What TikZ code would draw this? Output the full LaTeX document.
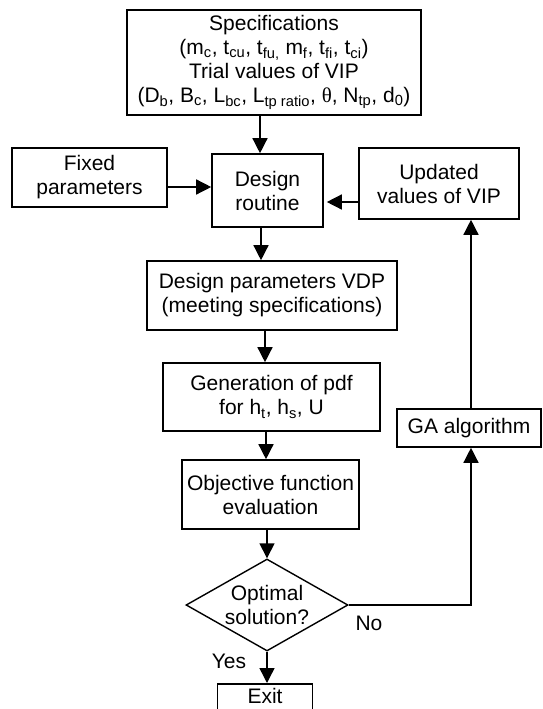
\documentclass[tikz,border=0pt]{standalone}
\usepackage{fontspec}
\setmainfont{Liberation Sans}
\newfontfamily\symserif{Liberation Serif}
\usetikzlibrary{arrows.meta,shapes.geometric}
\begin{document}
\begin{tikzpicture}[x=1pt,y=-1pt,
  txt/.style={font=\fontsize{21}{24}\selectfont},
  box/.style={txt, draw, line width=1.6pt, align=center, inner sep=2pt},
  conn/.style={line width=1.4pt, -{Triangle[length=15pt,width=15pt]}}]
\useasboundingbox (0,0) rectangle (542,709);
% boxes
\node[box, minimum width=294pt, minimum height=105pt] (spec) at (274,62.5)
  {Specifications\\(m\textsubscript{c}, t\textsubscript{cu}, t\textsubscript{fu,} m\textsubscript{f}, t\textsubscript{fi}, t\textsubscript{ci})\\Trial values of VIP\\(D\textsubscript{b}, B\textsubscript{c}, L\textsubscript{bc}, L\textsubscript{tp ratio}, {\symserif θ}, N\textsubscript{tp}, d\textsubscript{0})};
\node[box, minimum width=155pt, minimum height=59pt] (fix) at (89.5,177.5) {Fixed\\parameters};
\node[box, minimum width=111pt, minimum height=73pt] (dr) at (267.5,190.5) {Design\\routine};
\node[box, minimum width=160pt, minimum height=71pt] (upd) at (439,183.5) {Updated\\values of VIP};
\node[box, minimum width=250pt, minimum height=69pt] (vdp) at (272,295.5) {Design parameters VDP\\(meeting specifications)};
\node[box, minimum width=217pt, minimum height=68pt] (gen) at (271.5,397) {Generation of pdf\\for h\textsubscript{t}, h\textsubscript{s}, U};
\node[box, minimum width=144pt, minimum height=38pt] (ga) at (469,428) {GA algorithm};
\node[box, minimum width=177pt, minimum height=69pt] (obj) at (270.5,494.5) {Objective function\\evaluation};
\node[draw, diamond, line width=1.4pt, minimum width=162pt, minimum height=92pt, inner sep=0pt] (dec) at (267,605) {};
\node[txt, align=center] (dectext) at (dec) {Optimal\\solution?};
\node[box, minimum width=95pt, minimum height=39pt, text depth=14pt, anchor=north] (exit) at (265,683) {Exit};
\node[txt] (no) at (369,623) {No};
\node[txt] (yes) at (229,661) {Yes};
% connector coordinates
\coordinate (c1) at (260,0);
\coordinate (c2) at (261,0);
\coordinate (c3) at (265,0);
\coordinate (c4) at (266,0);
\coordinate (cga) at (471,0);
\coordinate (yf) at (0,187);
\coordinate (yu) at (0,202);
% connectors
\draw[conn] (spec.south -| c1) -- (dr.north -| c1);
\draw[conn] (fix.east |- yf) -- (dr.west |- yf);
\draw[conn, shorten >=3pt] (upd.west |- yu) -- (dr.east |- yu);
\draw[conn] (dr.south -| c2) -- (vdp.north -| c2);
\draw[conn] (vdp.south -| c3) -- (gen.north -| c3);
\draw[conn] (gen.south -| c4) -- (obj.north -| c4);
\draw[conn] (obj.south -| dec.north) -- (dec.north);
\draw[conn] (dec.south) -- (exit.north -| dec.south);
\draw[conn] (dec.east) -- (dec.east -| cga) -- (ga.south -| cga);
\draw[conn] (ga.north -| cga) -- (upd.south -| cga);
\end{tikzpicture}
\end{document}
